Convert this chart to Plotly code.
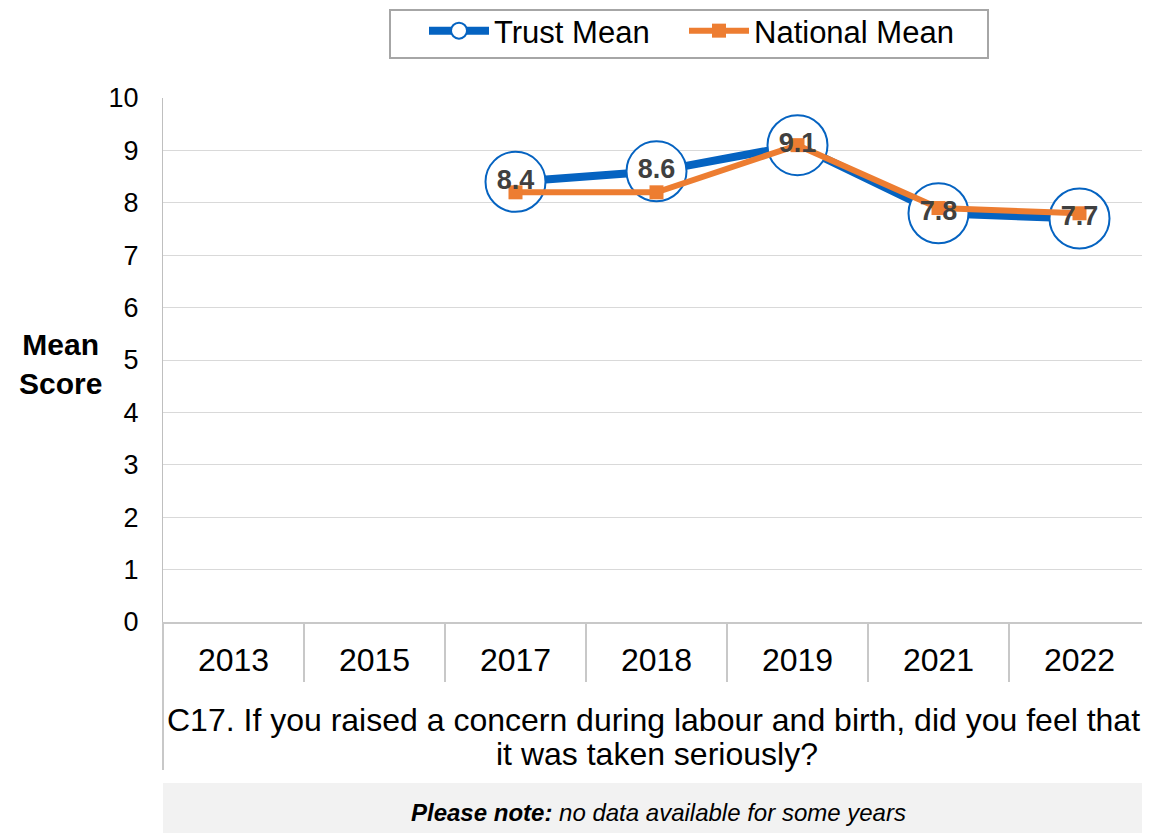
import plotly.graph_objects as go

years = ["2013", "2015", "2017", "2018", "2019", "2021", "2022"]
trust_mean = [None, None, 8.4, 8.6, 9.1, 7.8, 7.7]
national_mean = [None, None, 8.2, 8.2, 9.1, 7.9, 7.8]

y_ticks = list(range(0, 11))
title_lines = ["C17. If you raised a concern during labour and birth, did you feel that",
               "it was taken seriously?"]
note_text = "<b><i>Please note:</i></b><i> no data available for some years</i>"

FONT = "Liberation Sans, Arial, sans-serif"
BLUE = "#0563C1"
ORANGE = "#ED7D31"

# page has an 8px body margin; work in page pixels and convert
OFF = 8
PLOT_L, PLOT_R, PLOT_T, PLOT_B = 163, 1150, 98, 622
FIG_W, FIG_H = 1150 - OFF, 833 - OFF
H_PLOT = PLOT_B - PLOT_T
W_PLOT = PLOT_R - PLOT_L


def py(px):
    return (PLOT_B - px) / H_PLOT


def pxp(px):
    return (px - PLOT_L) / W_PLOT


fig = go.Figure()
fig.add_trace(go.Scatter(
    x=years, y=trust_mean, name="Trust Mean", mode="lines+markers",
    line=dict(color=BLUE, width=8),
    marker=dict(symbol="circle", size=60, color="white", line=dict(color=BLUE, width=2)),
    cliponaxis=False, legend="legend",
))
fig.add_trace(go.Scatter(
    x=years, y=national_mean, name="National Mean", mode="lines+markers",
    line=dict(color=ORANGE, width=6),
    marker=dict(symbol="square", size=14, color=ORANGE),
    cliponaxis=False, legend="legend2",
))
fig.add_trace(go.Scatter(
    x=years, y=trust_mean, name="Trust Mean labels", mode="text",
    texttemplate="<b>%{y:.1f}</b>", textposition="middle center",
    textfont=dict(family=FONT, size=27, color="#404040"),
    cliponaxis=False, showlegend=False, hoverinfo="skip",
))

legend_common = dict(
    orientation="h", xanchor="left", y=py(31), yanchor="middle",
    font=dict(family=FONT, size=31, color="black"),
    borderwidth=0, bgcolor="rgba(0,0,0,0)", itemwidth=60,
)

fig.update_layout(
    width=FIG_W, height=FIG_H,
    margin=dict(l=PLOT_L - OFF, r=FIG_W - (PLOT_R - OFF), t=PLOT_T - OFF,
                b=FIG_H - (PLOT_B - OFF), pad=0, autoexpand=False),
    paper_bgcolor="white", plot_bgcolor="white",
    font=dict(family=FONT, color="black"),
    showlegend=True,
    legend=dict(x=pxp(424), **legend_common),
    legend2=dict(x=pxp(684), **legend_common),
    xaxis=dict(
        type="category", categoryorder="array", categoryarray=years,
        range=[-0.5, len(years) - 0.5],
        showgrid=False, zeroline=False,
        showline=True, linecolor="#c8c8c8", linewidth=2,
        ticks="outside", tickson="boundaries", ticklen=58, tickwidth=2, tickcolor="#c8c8c8",
        tickfont=dict(family=FONT, size=32, color="black"),
        ticklabelstandoff=9,
    ),
    yaxis=dict(
        range=[0, 10], tickvals=y_ticks, ticktext=[str(v) for v in y_ticks],
        showgrid=True, gridcolor="#d9d9d9", gridwidth=1,
        zeroline=False, showline=True, linecolor="#bfbfbf", linewidth=1,
        ticks="", tickfont=dict(family=FONT, size=27, color="black"),
        ticklabelstandoff=18,
    ),
    shapes=[
        dict(type="line", xref="paper", yref="paper", x0=0, x1=0, y0=0, y1=py(770),
             line=dict(color="#c8c8c8", width=2), layer="below"),
        dict(type="rect", xref="paper", yref="paper", x0=0, x1=1, y0=py(783), y1=py(833 + 20),
             fillcolor="#f2f2f2", line=dict(width=0), layer="below"),
        dict(type="rect", xref="paper", yref="paper", x0=pxp(390), x1=pxp(988),
             y0=py(58), y1=py(10), fillcolor="white",
             line=dict(color="#a6a6a6", width=2), layer="below"),
    ],
    annotations=[
        dict(text="<b>Mean</b><br><b>Score</b>", xref="paper", yref="paper",
             x=pxp(60), y=py(364), xanchor="center", yanchor="middle", showarrow=False,
             font=dict(family=FONT, size=30, color="black")),
        dict(text=title_lines[0], xref="paper", yref="paper", x=pxp(653), y=py(720),
             xanchor="center", yanchor="middle", showarrow=False,
             font=dict(family=FONT, size=32, color="black")),
        dict(text=title_lines[1], xref="paper", yref="paper", x=pxp(657), y=py(754),
             xanchor="center", yanchor="middle", showarrow=False,
             font=dict(family=FONT, size=32, color="black")),
        dict(text=note_text, xref="paper", yref="paper", x=pxp(658), y=py(812),
             xanchor="center", yanchor="middle", showarrow=False,
             font=dict(family=FONT, size=24, color="black")),
    ],
)

fig.write_html("out.html")
